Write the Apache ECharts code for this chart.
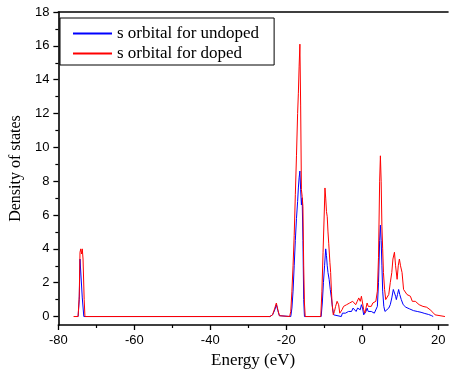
<!DOCTYPE html>
<html><head><meta charset="utf-8">
<script src="https://cdn.jsdelivr.net/npm/echarts@6/dist/echarts.min.js"></script>
<style>html,body{margin:0;padding:0;background:#fff}#c{width:450px;height:374px}</style>
</head><body><div id="c"></div>
<script>
// Energy (eV) and DOS values
var energyUndoped = [-74.8,-74.5,-74.3,-74.1,-73.9,-73.7,-73.5,-73.3,-24.3,-23.6,-23.0,-22.6,-22.2,-21.8,-21.5,
 -18.8,-18.5,-18.2,-17.9,-17.6,-17.3,-17.0,-16.8,-16.6,-16.4,-16.2,-16.0,-15.8,-15.6,-15.4,-15.2,
 -10.8,-10.5,-10.2,-9.9,-9.6,-9.4,-9.2,-9.0,-8.7,-8.4,-8.1,-7.8,-7.5,-7.2,
 -5.5,-5.2,-4.8,-4.4,-4.0,-3.6,-3.2,-2.8,-2.4,-2.0,-1.6,-1.2,-0.8,-0.5,-0.2,0.1,0.4,0.7,1.0,1.3,1.6,2.0,2.4,2.8,3.2,3.6,
 4.0,4.3,4.6,4.8,5.0,5.2,5.4,5.7,6.0,6.5,7.0,7.4,7.8,8.2,8.5,8.8,9.0,9.3,9.6,9.9,10.3,10.8,11.5,12.5,13.5,14.5,15.5,16.5,17.5,18.2,18.7];
var dosUndoped = [0,1.0,3.4,3.3,3.4,1.1,1.0,0,0,0.1,0.4,0.7,0.35,0.05,0,
 0,0.5,1.5,3.0,4.5,5.8,6.8,7.6,8.2,8.6,7.5,6.6,7.0,4.5,1.0,0,
 0,0.8,2.0,3.0,4.0,3.6,3.0,2.6,2.2,1.6,1.1,0.5,0.1,0,
 0,0.2,0.3,0.2,0.3,0.3,0.4,0.3,0.5,0.4,0.3,0.5,0.6,0.4,0.7,0.5,0.1,0.05,0.3,0.5,0.3,0.2,0.3,0.3,0.2,0.3,
 0.6,2.0,4.5,5.4,4.5,3.0,1.5,0.6,0.3,0.3,0.5,0.7,1.1,1.6,1.5,1.2,1.0,1.3,1.6,1.3,1.0,0.7,0.55,0.45,0.35,0.3,0.25,0.18,0.12,0.06,0];

var energyDoped = [-76,-74.8,-74.5,-74.3,-74.1,-73.9,-73.7,-73.5,-73.2,-73.0,-24.3,-23.6,-23.0,-22.6,-22.2,-21.8,-21.5,
 -19.1,-18.8,-18.5,-18.2,-17.9,-17.6,-17.3,-17.0,-16.8,-16.6,-16.4,-16.2,-16.0,-15.8,-15.6,-15.4,-15.2,-15.0,
 -10.9,-10.6,-10.3,-10.0,-9.8,-9.6,-9.4,-9.2,-9.0,-8.8,-8.5,-8.3,-8.1,-7.9,-7.6,-7.3,-7.0,-6.6,-6.4,-6.2,-5.9,-5.6,-5.3,
 -4.9,-4.5,-4.1,-3.7,-3.3,-2.9,-2.5,-2.1,-1.7,-1.3,-0.9,-0.5,-0.2,0.1,0.4,0.7,1.0,1.3,1.6,2.0,2.4,2.8,3.2,3.6,
 4.0,4.3,4.6,4.8,5.0,5.2,5.4,5.6,5.9,6.2,6.6,7.0,7.4,7.8,8.1,8.5,8.8,9.2,9.5,9.8,10.1,10.5,10.9,11.3,11.8,12.7,13.2,14.0,15.0,16.0,17.0,17.9,18.6,19.2,19.6,21.8];
var dosDoped = [0,0,1.2,3.8,4.0,3.7,4.0,3.4,1.0,0,0,0.1,0.5,0.8,0.4,0.05,0,
 0,0.3,1.5,3.0,4.8,7.2,9.5,12.0,13.2,14.8,16.1,12.5,7.5,7.1,6.5,3.0,0.8,0,
 0,1.5,3.8,6.0,7.6,7.0,6.2,5.9,5.0,4.3,3.2,2.6,1.5,0.7,0.1,0.3,0.6,0.9,0.8,0.7,0.2,0.1,0.4,
 0.6,0.6,0.7,0.6,0.8,0.7,0.9,0.8,0.7,0.9,1.1,0.9,1.2,1.1,0.4,0.2,0.5,0.8,0.6,0.7,0.6,0.8,0.7,0.9,
 1.5,3.5,8.0,9.5,8.0,5.3,4.0,2.6,1.6,1.0,1.0,1.3,2.0,2.6,3.4,3.8,3.0,2.2,3.0,3.4,3.0,2.6,1.6,1.5,1.3,1.2,0.9,0.9,0.7,0.6,0.55,0.4,0.25,0.1,0.02,0];

var xMajor = [-80,-60,-40,-20,0,20];
var xMinor = [-70,-50,-30,-10,10];
var yMajor = [0,2,4,6,8,10,12,14,16,18];
var yMinor = [1,3,5,7,9,11,13,15,17];
var seriesNames = ['s orbital for undoped','s orbital for doped'];
var seriesColors = ['#0000ff','#ff0000'];

function pairs(xs, ys){ return xs.map(function(x,i){ return [x, ys[i]]; }); }

var chart = echarts.init(document.getElementById('c'), null, {renderer:'canvas'});
var lineAxis = {show:true, onZero:false, lineStyle:{color:'#000', width:1.6}};
var labelFont = {fontFamily:'Liberation Sans, Arial, sans-serif', fontSize:13, color:'#000'};
chart.setOption({
  animation:false,
  backgroundColor:'#fff',
  grid:{left:57, top:12, right:2, bottom:49, containLabel:false},
  legend:{
    data:seriesNames,
    orient:'vertical', left:60, top:18,
    padding:[7,15,3,12], itemWidth:39, itemHeight:14, itemGap:3,
    borderColor:'#000', borderWidth:1,
    itemStyle:{opacity:0},
    textStyle:{fontFamily:'Liberation Serif, Times New Roman, serif', fontSize:17, color:'#000'}
  },
  xAxis:[{
    type:'value', min:-80, max:22.6, position:'bottom',
    name:'Energy (eV)', nameLocation:'middle', nameGap:25,
    nameTextStyle:{fontFamily:'Liberation Serif, Times New Roman, serif', fontSize:17, color:'#000'},
    axisLine:lineAxis,
    axisTick:{show:true, inside:false, length:5, customValues:xMajor, lineStyle:{color:'#000', width:1.3}},
    axisLabel:Object.assign({margin:9, customValues:xMajor}, labelFont),
    splitLine:{show:false}
  },{
    type:'value', min:-80, max:22.6, position:'bottom',
    axisLine:{show:false, onZero:false},
    axisTick:{show:true, inside:false, length:3, customValues:xMinor, lineStyle:{color:'#000', width:1.2}},
    axisLabel:{show:false}, splitLine:{show:false}
  },{
    type:'value', min:-80, max:22.6, position:'top',
    axisLine:lineAxis, axisTick:{show:false}, axisLabel:{show:false}, splitLine:{show:false}
  }],
  yAxis:[{
    type:'value', min:-0.5, max:18, position:'left',
    name:'Density of states', nameLocation:'middle', nameGap:29,
    nameTextStyle:{fontFamily:'Liberation Serif, Times New Roman, serif', fontSize:16, color:'#000'},
    axisLine:lineAxis,
    axisTick:{show:true, inside:false, length:5, customValues:yMajor, lineStyle:{color:'#000', width:1.3}},
    axisLabel:Object.assign({margin:9, customValues:yMajor}, labelFont),
    splitLine:{show:false}
  },{
    type:'value', min:-0.5, max:18, position:'left',
    axisLine:{show:false, onZero:false},
    axisTick:{show:true, inside:false, length:3, customValues:yMinor, lineStyle:{color:'#000', width:1.2}},
    axisLabel:{show:false}, splitLine:{show:false}
  }],
  series:[{
    name:seriesNames[0], type:'line', xAxisIndex:0, yAxisIndex:0,
    data:pairs(energyUndoped, dosUndoped), symbol:'none', showSymbol:false,
    lineStyle:{color:seriesColors[0], width:1}, itemStyle:{color:seriesColors[0]}
  },{
    name:seriesNames[1], type:'line', xAxisIndex:0, yAxisIndex:0,
    data:pairs(energyDoped, dosDoped), symbol:'none', showSymbol:false,
    lineStyle:{color:seriesColors[1], width:1}, itemStyle:{color:seriesColors[1]}
  }]
});
</script></body></html>
